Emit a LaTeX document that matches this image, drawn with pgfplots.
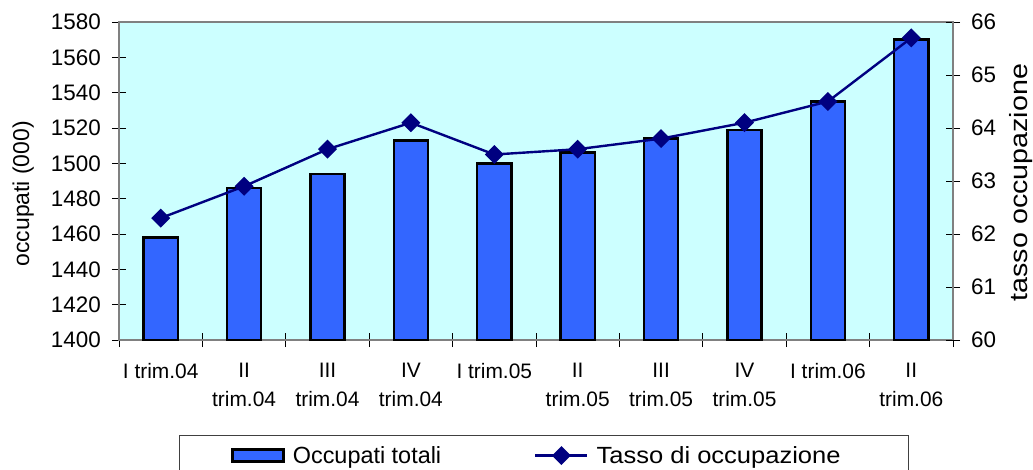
\documentclass[border=0pt]{standalone}
\usepackage{fontspec}
\setmainfont{Liberation Sans}
\newfontfamily\stretchfont[FakeStretch=1.15]{Liberation Sans}
\newfontfamily\widefont[FakeStretch=1.09]{Liberation Sans}
\usepackage{pgfplots}
\usepackage{pgfplotstable}
\pgfplotsset{compat=1.18}
\definecolor{bg}{HTML}{CCFFFF}
\definecolor{barblue}{HTML}{3366FF}
\definecolor{navyline}{HTML}{000080}
\definecolor{framegray}{HTML}{808080}

\pgfplotstableread{
x occ tasso
0 1458 62.3
1 1486 62.9
2 1494 63.6
3 1513 64.1
4 1500 63.5
5 1506 63.6
6 1514 63.8
7 1519 64.1
8 1535 64.5
9 1570 65.7
}\datatable

\pgfplotsset{
  mybarlegend/.style={legend image code/.code={\draw[##1] (0bp,-6bp) rectangle (51bp,6bp);}},
  mylinelegend/.style={legend image code/.code={\draw[mark repeat=2,mark phase=2,##1] plot coordinates {(0bp,0bp) (26bp,0bp) (52bp,0bp)};}}
}

\begin{document}
\begin{tikzpicture}
\path[use as bounding box] (-119bp,-130bp) rectangle (914bp,340bp);
\begin{axis}[
  at={(0,0)}, anchor=south west,
  scale only axis, width=834bp, height=318bp,
  xmin=-0.5, xmax=9.5, ymin=1400, ymax=1580,
  ytick distance=20,
  /pgf/number format/assume math mode=true,
  /pgf/number format/1000 sep={},
  axis background/.style={fill=bg},
  axis line style={draw=framegray, line width=1.3bp},
  tick pos=left,
  tick align=center,
  major tick length=14bp,
  tick style={black, line width=0.9bp},
  xtick={-0.5,0.5,...,9.5}, xticklabels={},
  extra x ticks={0,1,...,9},
  extra x tick labels={I trim.04, II\\trim.04, III\\trim.04, IV\\trim.04, I trim.05, II\\trim.05, III\\trim.05, IV\\trim.05, I trim.06, II\\trim.06},
  extra x tick style={major tick length=0pt},
  xticklabel style={font=\fontsize{21}{29}\selectfont, align=center, anchor=north, inner sep=0pt, yshift=-23bp},
  yticklabel style={font=\fontsize{22.5}{26}\selectfont, anchor=east, inner sep=0pt, xshift=-11bp},
  ylabel={occupati (000)},
  ylabel style={font=\fontsize{23}{28}\selectfont, at={(axis description cs:-0.115,0.46)}, anchor=center},
]
\addplot[ybar, bar width=0.41, fill=barblue, draw=black, line width=2.5bp] table[x=x,y=occ]{\datatable};
\end{axis}
\begin{axis}[
  at={(0,0)}, anchor=south west,
  scale only axis, width=834bp, height=318bp,
  xmin=-0.5, xmax=9.5, ymin=60, ymax=66,
  ytick distance=1,
  /pgf/number format/assume math mode=true,
  axis x line=none, axis y line*=right,
  y axis line style={-, draw=framegray, line width=1.3bp},
  tick align=center,
  major tick length=14bp,
  tick style={black, line width=0.9bp},
  yticklabel style={font=\fontsize{22.5}{26}\selectfont, anchor=west, inner sep=0pt, xshift=11bp},
  ylabel={\stretchfont tasso occupazione},
  ylabel style={font=\fontsize{25}{30}\selectfont, at={(axis description cs:1.081,0.495)}, anchor=center},
  legend style={at={(axis description cs:0.0719,-0.2987)}, anchor=north west,
    draw=black!75, line width=0.8bp, fill=white,
    font=\fontsize{23.5}{28}\selectfont,
    inner xsep=52bp, inner ysep=9bp,
    /tikz/every odd column/.append style={column sep=6bp},
    /tikz/every even column/.append style={column sep=91bp}},
  legend columns=2,
  legend cell align=left,
]
\addlegendimage{mybarlegend, fill=barblue, draw=black, line width=2.5bp}
\addlegendentry{Occupati totali}
\addplot[navyline, line width=2.4bp, mark=square*, mark size=5.5bp, mark options={rotate=45, solid, fill=navyline}, mylinelegend]
  table[x=x,y=tasso]{\datatable};
\addlegendentry{\widefont Tasso di occupazione\rule{14bp}{0pt}}
\end{axis}
\end{tikzpicture}
\end{document}
